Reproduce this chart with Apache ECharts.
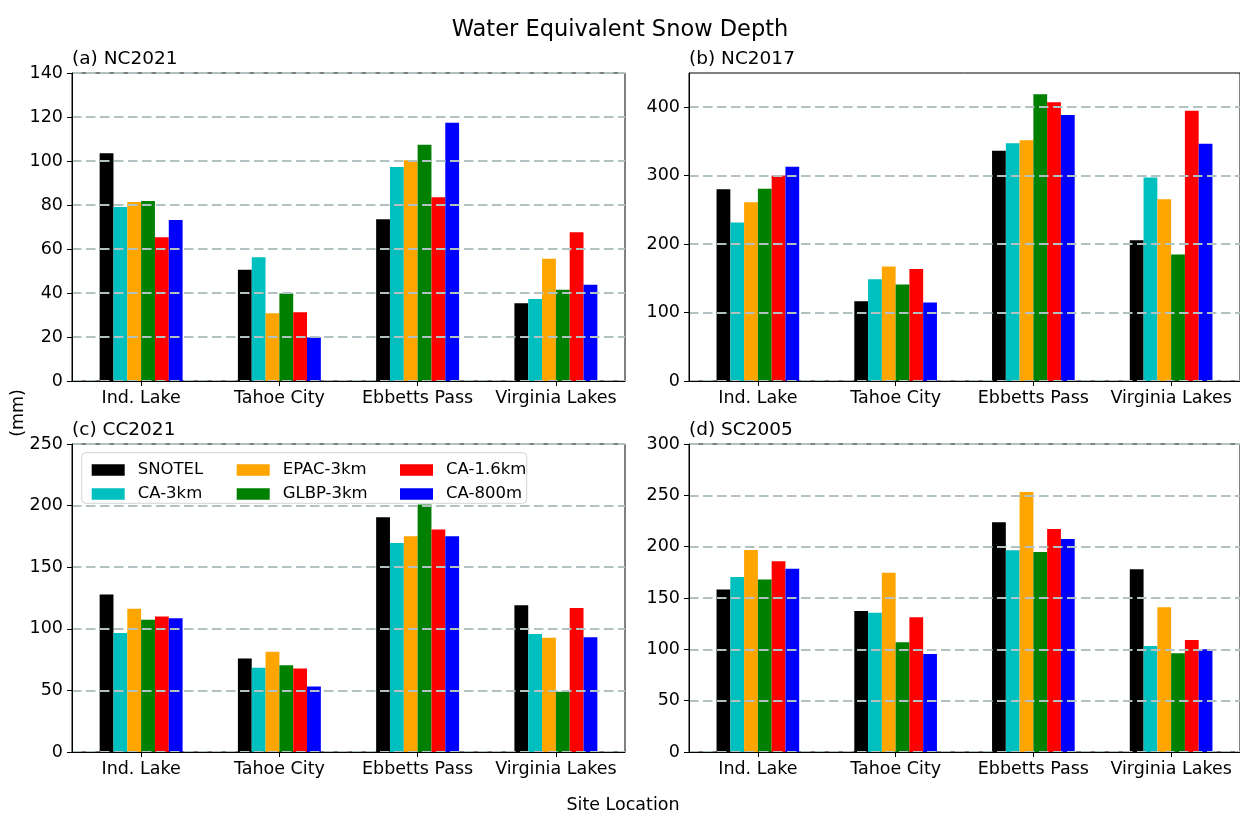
<!DOCTYPE html>
<html>
<head>
<meta charset="utf-8">
<title>Water Equivalent Snow Depth</title>
<script src="https://cdn.jsdelivr.net/npm/echarts@6/dist/echarts.min.js"></script>
<style>
  html, body { margin: 0; padding: 0; background: #ffffff; }
  #chart { width: 1240px; height: 813px; }
</style>
</head>
<body>
<div id="chart"></div>
<script>
// Sites along the x axis and the six data sources (observations + model runs)
const categories = ['Ind. Lake', 'Tahoe City', 'Ebbetts Pass', 'Virginia Lakes'];
const seriesNames = ['SNOTEL', 'CA-3km', 'EPAC-3km', 'GLBP-3km', 'CA-1.6km', 'CA-800m'];
const seriesColors = ['#000000', '#00bfbf', '#ffa500', '#008000', '#ff0000', '#0000ff'];

// Snow water equivalent (mm), one row per data source, one value per site
const nc2021 = [
  [103.5, 50.6, 73.5, 35.3],
  [79.1, 56.2, 97.3, 37.3],
  [81.4, 30.8, 100.3, 55.6],
  [81.8, 39.8, 107.4, 41.5],
  [65.3, 31.2, 83.5, 67.6],
  [73.2, 19.8, 117.4, 43.8]
];
const nc2017 = [
  [280, 116.6, 336.3, 205.6],
  [231.4, 148.7, 347.5, 297.4],
  [261, 167.2, 351.9, 265.4],
  [281, 141, 419, 184.7],
  [300.4, 163.8, 407.3, 394.7],
  [313, 114.7, 388.8, 346.5]
];
const cc2021 = [
  [127.8, 75.9, 190.5, 119.2],
  [96.5, 68.4, 169.7, 95.7],
  [116.2, 81.4, 175.1, 92.7],
  [107.3, 70.5, 200.8, 48.9],
  [110, 67.8, 180.5, 116.8],
  [108.6, 53.2, 175.1, 93.2]
];
const sc2005 = [
  [158.4, 137.3, 223.7, 177.9],
  [170.5, 135.7, 196.4, 103.2],
  [196.8, 174.7, 253.2, 140.9],
  [167.9, 106.8, 194.8, 96.1],
  [185.7, 131.2, 217.2, 109.1],
  [178.6, 95.5, 207.5, 100]
];

// Y tick labels per panel, and the top of each value axis
const ticksA = [0, 20, 40, 60, 80, 100, 120, 140];
const ticksB = [0, 100, 200, 300, 400];
const ticksC = [0, 50, 100, 150, 200, 250];
const ticksD = [0, 50, 100, 150, 200, 250, 300];
const yMaxB = 450;

const panelTitles = ['(a) NC2021', '(b) NC2017', '(c) CC2021', '(d) SC2005'];

const FONT = 'DejaVu Sans';
const panels = [
  { data: nc2021, ticks: ticksA, max: ticksA[ticksA.length - 1] },
  { data: nc2017, ticks: ticksB, max: yMaxB },
  { data: cc2021, ticks: ticksC, max: ticksC[ticksC.length - 1] },
  { data: sc2005, ticks: ticksD, max: ticksD[ticksD.length - 1] }
];

const gridBoxes = [
  { left: 72, top: 73 },
  { left: 689, top: 73 },
  { left: 72, top: 444 },
  { left: 689, top: 444 }
];
const GRID_W = 553, GRID_H = 308;

const grid = gridBoxes.map(g => ({
  left: g.left, top: g.top, width: GRID_W, height: GRID_H,
  show: true, borderColor: '#000', borderWidth: 1, backgroundColor: 'transparent'
}));

const xAxis = panels.map((p, i) => ({
  type: 'category', gridIndex: i, data: categories, z: 3,
  axisLine: { show: true, lineStyle: { color: '#000', width: 1 } },
  axisTick: { show: true, alignWithLabel: true, length: 5, lineStyle: { color: '#000' } },
  axisLabel: { color: '#000', fontSize: 17.5, fontFamily: FONT, margin: 8, interval: 0, hideOverlap: false },
  splitLine: { show: false }
}));

const yAxis = panels.map((p, i) => {
  const step = p.ticks[1] - p.ticks[0];
  const ax = {
    type: 'value', gridIndex: i, min: p.ticks[0], max: p.max, interval: step, z: 3,
    axisLine: { show: true, lineStyle: { color: '#000', width: 1 } },
    axisTick: { show: true, length: 5, lineStyle: { color: '#000' } },
    axisLabel: { color: '#000', fontSize: 17.5, fontFamily: FONT, margin: 9 },
    splitLine: { show: true, lineStyle: { color: '#b2c2c2', width: 2.2, type: [9.5, 4.5] } }
  };
  if (p.max !== p.ticks[p.ticks.length - 1]) {
    // axis top sits above the last labelled tick
    ax.axisLabel.customValues = p.ticks;
    ax.axisTick.customValues = p.ticks;
  }
  return ax;
});

const series = [];
panels.forEach((p, i) => {
  seriesNames.forEach((name, k) => {
    series.push({
      type: 'bar', name: name, xAxisIndex: i, yAxisIndex: i,
      data: p.data[k],
      barWidth: '10%', barGap: '0%',
      itemStyle: { color: seriesColors[k] },
      emphasis: { disabled: true },
      z: 2
    });
  });
});

const legendBase = {
  orient: 'vertical', top: 456, itemWidth: 33, itemHeight: 11.5, itemGap: 6,
  icon: 'rect', selectedMode: false, z: 11,
  textStyle: { color: '#000', fontSize: 16.5, fontFamily: FONT, lineHeight: 18, padding: [0, 0, 0, 8] }
};
const legend = [
  Object.assign({}, legendBase, { left: 86.7, data: [seriesNames[0], seriesNames[1]] }),
  Object.assign({}, legendBase, { left: 231.7, data: [seriesNames[2], seriesNames[3]] }),
  Object.assign({}, legendBase, { left: 395, data: [seriesNames[4], seriesNames[5]] })
];

const panelTitleY = [59, 59, 430, 430];
const graphic = panelTitles.map((t, i) => ({
  type: 'text', x: gridBoxes[i].left, y: panelTitleY[i], z: 5,
  style: { text: t, fill: '#000', font: '18.5px "' + FONT + '"', align: 'left', verticalAlign: 'middle' }
}));
graphic.push({
  type: 'text', x: 18.5, y: 413, rotation: Math.PI / 2, z: 5,
  style: { text: '(mm)', fill: '#000', font: '17.5px "' + FONT + '"', align: 'center', verticalAlign: 'middle' }
});
graphic.push({
  type: 'text', x: 623, y: 805, z: 5,
  style: { text: 'Site Location', fill: '#000', font: '17.5px "' + FONT + '"', align: 'center', verticalAlign: 'middle' }
});
// legend frame inside panel (c)
graphic.push({
  type: 'rect', z: 10,
  shape: { x: 81.7, y: 452.7, width: 445, height: 50.6, r: 4 },
  style: { fill: 'rgba(255,255,255,0.85)', stroke: '#d4d4d4', lineWidth: 1 }
});

const chart = echarts.init(document.getElementById('chart'), null, { renderer: 'canvas' });
chart.setOption({
  animation: false,
  backgroundColor: '#ffffff',
  textStyle: { fontFamily: FONT },
  title: {
    text: 'Water Equivalent Snow Depth', left: 'center', top: 14,
    textStyle: { color: '#000', fontSize: 22.5, fontWeight: 'normal', fontFamily: FONT }
  },
  grid: grid,
  xAxis: xAxis,
  yAxis: yAxis,
  legend: legend,
  graphic: graphic,
  series: series
});
</script>
</body>
</html>
